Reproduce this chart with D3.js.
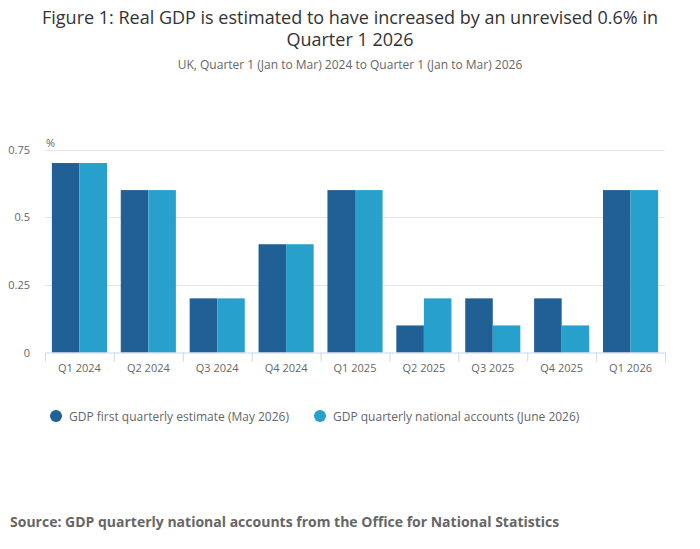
<!DOCTYPE html>
<html>
<head>
	<meta charset="utf-8">
	<title>Figure 1: Real GDP</title>
	<script src="https://d3js.org/d3.v7.min.js"></script>
	<style>
		body { margin: 0; background: #fff; font-family: "Open Sans", sans-serif; }
		text { font-family: "Open Sans", sans-serif; }
	</style>
</head>
<body>
	<script type="text/javascript">

		// Data
		var quarters = ['Q1 2024', 'Q2 2024', 'Q3 2024', 'Q4 2024', 'Q1 2025', 'Q2 2025', 'Q3 2025', 'Q4 2025', 'Q1 2026'];
		var firstEstimate = [0.7, 0.6, 0.2, 0.4, 0.6, 0.1, 0.2, 0.2, 0.6];
		var nationalAccounts = [0.7, 0.6, 0.2, 0.4, 0.6, 0.2, 0.1, 0.1, 0.6];
		var seriesNames = ['GDP first quarterly estimate (May 2026)', 'GDP quarterly national accounts (June 2026)'];
		var yTicks = [0, 0.25, 0.5, 0.75];

		var colours = ['#206095', '#27a0cc'];
		var outerWidth = 700, outerHeight = 549;

		var svg = d3.select('body')
					.append('svg')
					.attr('width', outerWidth)
					.attr('height', outerHeight);

		// Title and subtitle
		svg.append('text')
		   .attr('x', 350).attr('y', 24)
		   .style('text-anchor', 'middle')
		   .style('font-size', '18px')
		   .style('fill', '#333')
		   .text('Figure 1: Real GDP is estimated to have increased by an unrevised 0.6% in');
		svg.append('text')
		   .attr('x', 350).attr('y', 46)
		   .style('text-anchor', 'middle')
		   .style('font-size', '18px')
		   .style('fill', '#333')
		   .text('Quarter 1 2026');
		svg.append('text')
		   .attr('x', 350).attr('y', 69)
		   .style('text-anchor', 'middle')
		   .style('font-size', '12px')
		   .style('fill', '#666')
		   .text('UK, Quarter 1 (Jan to Mar) 2024 to Quarter 1 (Jan to Mar) 2026');

		// Scales
		var x = d3.scaleBand()
				  .domain(quarters)
				  .range([45, 665])
				  .paddingInner(0.2)
				  .paddingOuter(0.1);

		var x0 = d3.scaleBand()
				   .domain(quarters)
				   .range([45, 665]);

		var xs = d3.scaleBand()
				   .domain([0, 1])
				   .range([0, x.bandwidth()]);

		var y = d3.scaleLinear()
				  .domain([0, 0.75])
				  .range([352.5, 149.5]);

		// Gridlines
		svg.append('g')
		   .selectAll('line')
		   .data(yTicks.filter(function(d) { return d > 0; }))
		   .enter()
		   .append('line')
		   .attr('x1', 45).attr('x2', 665)
		   .attr('y1', function(d) { return Math.round(y(d)) + 0.5; })
		   .attr('y2', function(d) { return Math.round(y(d)) + 0.5; })
		   .attr('stroke', '#e6e6e6');

		// Y axis labels
		svg.append('g')
		   .selectAll('text')
		   .data(yTicks)
		   .enter()
		   .append('text')
		   .attr('x', 30)
		   .attr('y', function(d) { return y(d) + 4; })
		   .style('text-anchor', 'end')
		   .style('font-size', '11px')
		   .style('fill', '#666')
		   .text(function(d) { return d; });

		svg.append('text')
		   .attr('x', 46).attr('y', 147)
		   .style('font-size', '11px')
		   .style('fill', '#666')
		   .text('%');

		// Bars
		var data = quarters.map(function(q, i) {
			return { q: q, values: [firstEstimate[i], nationalAccounts[i]] };
		});

		var groups = svg.append('g')
						.selectAll('g')
						.data(data)
						.enter()
						.append('g')
						.attr('transform', function(d) { return 'translate(' + x(d.q) + ',0)'; });

		groups.selectAll('rect')
			  .data(function(d) { return d.values; })
			  .enter()
			  .append('rect')
			  .attr('x', function(d, i) { return xs(i); })
			  .attr('y', function(d) { return y(d); })
			  .attr('width', xs.bandwidth())
			  .attr('height', function(d) { return y(0) - y(d); })
			  .attr('fill', function(d, i) { return colours[i]; });

		// X axis
		var xAxis = svg.append('g')
					   .attr('transform', 'translate(0,' + y(0) + ')')
					   .call(d3.axisBottom(x0).tickSize(0).tickSizeOuter(0));
		xAxis.select('.domain').attr('stroke', '#ccd6eb');
		xAxis.selectAll('text')
			 .attr('dy', '1.5em')
			 .style('font-size', '11px')
			 .style('fill', '#666');

		svg.append('g')
		   .selectAll('line')
		   .data(quarters.concat(['end']))
		   .enter()
		   .append('line')
		   .attr('x1', function(d, i) { return 45 + i * x0.step() + 0.5; })
		   .attr('x2', function(d, i) { return 45 + i * x0.step() + 0.5; })
		   .attr('y1', y(0))
		   .attr('y2', y(0) + 9)
		   .attr('stroke', '#ccd6eb');

		// Legend
		var legend = svg.append('g')
						.selectAll('g')
						.data(seriesNames)
						.enter()
						.append('g')
						.attr('transform', function(d, i) { return 'translate(' + (i === 0 ? 56 : 320) + ',416)'; });

		legend.append('circle')
			  .attr('r', 6)
			  .attr('fill', function(d, i) { return colours[i]; });

		legend.append('text')
			  .attr('x', 13)
			  .attr('y', 4.5)
			  .style('font-size', '12px')
			  .style('fill', '#666')
			  .text(function(d) { return d; });

		// Source
		svg.append('text')
		   .attr('x', 10).attr('y', 527)
		   .style('font-size', '14px')
		   .style('font-weight', 'bold')
		   .style('fill', '#666')
		   .text('Source: GDP quarterly national accounts from the Office for National Statistics');

	</script>
</body>
</html>
